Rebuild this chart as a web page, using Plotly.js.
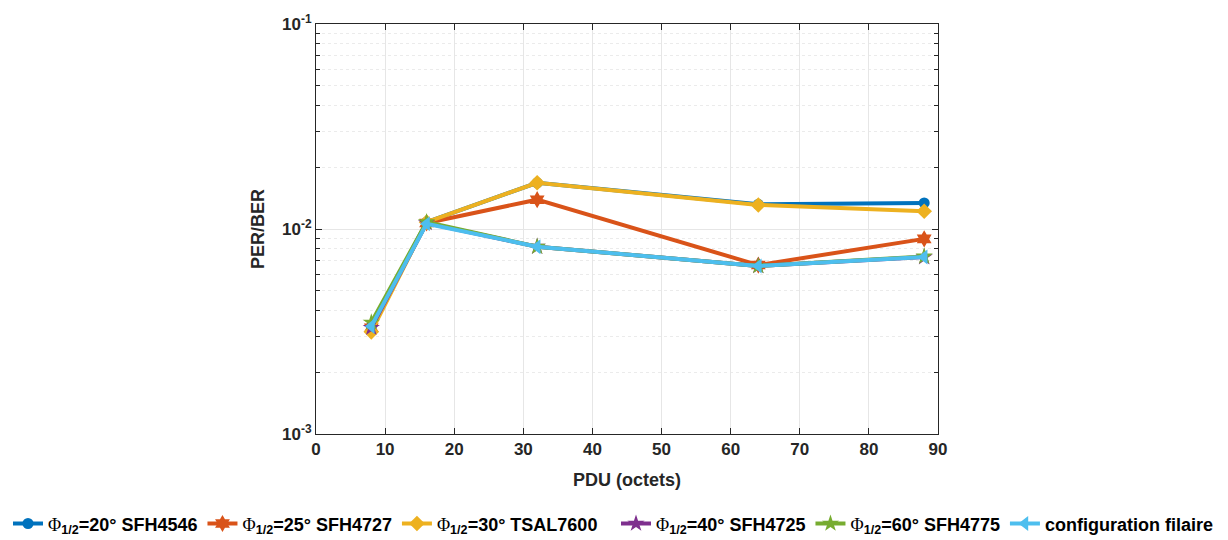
<!DOCTYPE html>
<html><head><meta charset="utf-8">
<script src="https://cdn.plot.ly/plotly-3.0.1.min.js"></script>
<style>html,body{margin:0;padding:0;background:#fff;}#chart{width:1228px;height:540px;}</style>
</head><body><div id="chart"></div>
<script>
const pdu = [8, 16, 32, 64, 88];
const phi = '<span style="font-family:Liberation Serif,serif;font-weight:normal">Φ</span><sub>1/2</sub>';
const seriesNames = [
  phi + '=20° SFH4546',
  phi + '=25° SFH4727',
  phi + '=30° TSAL7600',
  phi + '=40° SFH4725',
  phi + '=60° SFH4775',
  'configuration filaire'
];
const sfh4546 = [3.35e-3, 1.08e-2, 1.68e-2, 1.32e-2, 1.34e-2];
const sfh4727 = [3.3e-3, 1.07e-2, 1.39e-2, 6.67e-3, 8.95e-3];
const tsal7600 = [3.15e-3, 1.08e-2, 1.68e-2, 1.31e-2, 1.22e-2];
const sfh4725 = [3.3e-3, 1.07e-2, 8.2e-3, 6.6e-3, 7.3e-3];
const sfh4775 = [3.5e-3, 1.08e-2, 8.2e-3, 6.6e-3, 7.35e-3];
const filaire = [3.35e-3, 1.06e-2, 8.2e-3, 6.6e-3, 7.3e-3];
const yTickVals = [1e-3, 1e-2, 1e-1];
const yTickText = ['10<sup>-3</sup>', '10<sup>-2</sup>', '10<sup>-1</sup>'];
const yMinorVals = [2e-3,3e-3,4e-3,5e-3,6e-3,7e-3,8e-3,9e-3,2e-2,3e-2,4e-2,5e-2,6e-2,7e-2,8e-2,9e-2];

const colors = ['#0072BD','#D95319','#EDB120','#7E2F8E','#77AC30','#4DBEEE'];
const symbols = ['circle','hexagram','diamond','star','star','triangle-left'];
const sizes = [11, 13, 12, 13, 13, 13];
const legendIds = ['legend','legend','legend','legend2','legend2','legend2'];
const data = [sfh4546, sfh4727, tsal7600, sfh4725, sfh4775, filaire];

const traces = data.map((ys, i) => ({
  x: pdu, y: ys, name: seriesNames[i], type: 'scatter', mode: 'lines+markers',
  legend: legendIds[i],
  line: {color: colors[i], width: 4},
  marker: {symbol: symbols[i], size: sizes[i], color: colors[i], line: {width: 0}}
}));

const legFont = {family: 'Liberation Sans, Arial, sans-serif', size: 18, color: '#000', weight: 'bold'};
const legCommon = {
  orientation: 'h', xref: 'container', yref: 'container',
  xanchor: 'left', y: 0.03, yanchor: 'middle',
  font: legFont, itemwidth: 30, tracegroupgap: 0, bgcolor: 'rgba(0,0,0,0)'
};
const layout = {
  width: 1228, height: 540,
  margin: {l: 316, r: 290, t: 24, b: 106},
  paper_bgcolor: '#fff', plot_bgcolor: '#fff',
  font: {family: 'Liberation Sans, Arial, sans-serif', size: 17, color: '#262626', weight: 'bold'},
  showlegend: true,
  legend: Object.assign({}, legCommon, {x: 8 / 1228}),
  legend2: Object.assign({}, legCommon, {x: 616 / 1228}),
  xaxis: {
    range: [0, 90], dtick: 10, tick0: 0,
    showline: true, linecolor: '#262626', linewidth: 1, mirror: 'ticks',
    ticks: 'inside', ticklen: 6, tickcolor: '#262626',
    showgrid: true, gridcolor: '#e6e6e6', gridwidth: 1, zeroline: false,
    tickfont: {size: 17, color: '#262626', weight: 'bold'},
    title: {text: 'PDU (octets)', font: {size: 18, color: '#262626', weight: 'bold'}, standoff: 14}
  },
  yaxis: {
    type: 'log', range: [-3, -1],
    tickvals: yTickVals, ticktext: yTickText,
    showline: true, linecolor: '#262626', linewidth: 1, mirror: 'ticks',
    ticks: 'inside', ticklen: 6, tickcolor: '#262626',
    showgrid: true, gridcolor: '#e6e6e6', gridwidth: 1, zeroline: false,
    tickfont: {size: 17, color: '#262626', weight: 'bold'},
    minor: {tickvals: yMinorVals, ticks: 'inside', ticklen: 4, tickcolor: '#262626', showgrid: true, gridcolor: '#ebebeb', griddash: 'dot', gridwidth: 1},
    title: {text: 'PER/BER', font: {size: 18, color: '#262626', weight: 'bold'}, standoff: 12}
  }
};
Plotly.newPlot('chart', traces, layout, {staticPlot: true, displayModeBar: false});
</script></body></html>
